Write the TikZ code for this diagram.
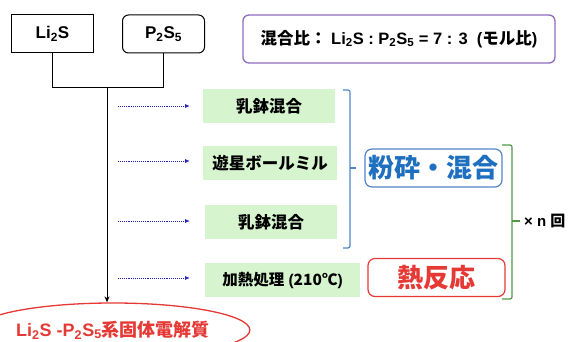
\documentclass[tikz,border=0pt]{standalone}
\usepackage{fontspec}
\setmainfont{Liberation Sans}
\newfontfamily\jp{Noto Sans CJK JP}
\usetikzlibrary{shapes.geometric,arrows.meta}
\definecolor{gfill}{HTML}{D6F5CF}
\definecolor{bbr}{HTML}{4F86C6}
\definecolor{btx}{HTML}{1F6FBF}
\definecolor{rbr}{HTML}{E53935}
\definecolor{gbr}{HTML}{4E9A45}
\definecolor{pbr}{HTML}{8E6BC0}
\definecolor{arr}{HTML}{2020C0}
\tikzset{
  chem/.style={draw=black, line width=1pt, minimum width=82pt, minimum height=38pt, font=\bfseries\fontsize{17}{19}\selectfont, inner sep=0pt},
  gbox/.style={fill=gfill, draw=none, minimum height=34pt, font=\jp\bfseries\fontsize{16.5}{18}\selectfont, inner sep=0pt},
  darr/.style={arr, densely dotted, line width=0.9pt, -{Latex[length=5pt,width=4pt]}},
  bigbox/.style={rounded corners=7pt, line width=1.2pt, minimum width=137pt, minimum height=38pt, inner sep=0pt, font=\jp\bfseries\fontsize{26}{28}\selectfont},
}
\begin{document}
\begin{tikzpicture}[x=1pt,y=-1pt]
\useasboundingbox (0,0) rectangle (571,342);
% top boxes
\node[chem] (li) at (52.5,34) {Li\textsubscript{2}S};
\node[chem, rounded corners=6pt] (ps) at (163.5,34) {P\textsubscript{2}S\textsubscript{5}};
\coordinate (j) at (107,88);
\draw[line width=1pt] (li.south) -- (li.south |- j) -- (ps.south |- j) -- (ps.south);
% ratio box
\node[draw=pbr, line width=1.3pt, rounded corners=6pt, minimum width=312pt, minimum height=48pt, inner sep=0pt,
  font=\bfseries\fontsize{16.5}{18}\selectfont] (ratio) at (399,39)
  {{\jp 混合比：}\ Li\textsubscript{2}S : P\textsubscript{2}S\textsubscript{5} = 7 : 3 \ ({\jp モル比})};
% product ellipse
\node[ellipse, draw=rbr, line width=1.3pt, minimum width=208pt, minimum height=54pt, inner sep=0pt,
  font=\bfseries\fontsize{18}{20}\selectfont, text=rbr] (el) at (113,330)
  {Li\textsubscript{2}S -P\textsubscript{2}S\textsubscript{5}{\jp 系固体電解質}};
\draw[line width=1pt, -{Stealth[length=6pt,width=5pt]}] (j) -- (j |- el.north);
% green step boxes
\node[gbox, minimum width=132pt] (g1) at (269,106.5) {乳鉢混合};
\node[gbox, minimum width=134pt] (g2) at (270,163.5) {遊星ボールミル};
\node[gbox, minimum width=132pt] (g3) at (271,222) {乳鉢混合};
\node[gbox, minimum width=155pt, font=\bfseries\fontsize{15.5}{17}\selectfont] (g4) at (282.5,280) {{\jp 加熱処理} ({\jp 210℃})};
% dotted arrows
\coordinate (a1) at (118,106); \coordinate (b1) at (190,106);
\coordinate (a2) at (118,161); \coordinate (b2) at (190,161);
\coordinate (a3) at (118,221); \coordinate (b3) at (190,221);
\coordinate (a4) at (118,278); \coordinate (b4) at (190,278);
\draw[darr] (a1) -- (b1);
\draw[darr] (a2) -- (b2);
\draw[darr] (a3) -- (b3);
\draw[darr] (a4) -- (b4);
% blue bracket
\coordinate (bt) at (343,90); \coordinate (bb) at (343,248); \coordinate (bm) at (356,168);
\draw[bbr, line width=1.2pt, rounded corners=2pt] (bt) -- (350,90) -- (350,248) -- (bb);
\draw[bbr, line width=1.2pt] (350,168) -- (bm);
\node[bigbox, draw=bbr, text=btx] (pulv) at (433.5,168) {粉砕・混合};
\node[bigbox, draw=rbr, text=rbr] (heat) at (436.5,277.5) {熱反応};
% green bracket
\coordinate (gt) at (502,145); \coordinate (gb) at (502,299); \coordinate (gm) at (520,221);
\draw[gbr, line width=1.2pt, rounded corners=2pt] (gt) -- (512,145) -- (512,299) -- (gb);
\draw[gbr, line width=1.2pt] (512,221) -- (gm);
\node[anchor=west, inner sep=0pt, font=\bfseries\fontsize{15}{17}\selectfont] (times) at (524,221) {× n {\jp 回}};
\end{tikzpicture}
\end{document}
